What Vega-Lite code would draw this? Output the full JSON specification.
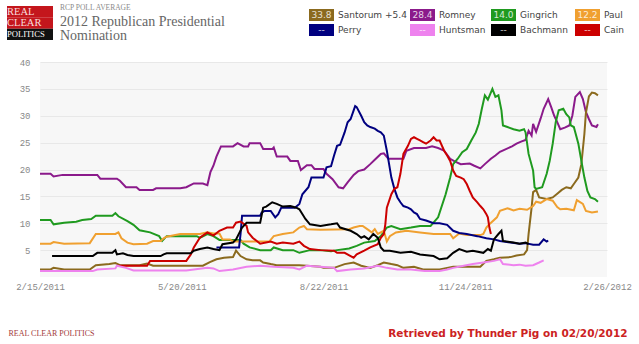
{
"$schema": "https://vega.github.io/schema/vega-lite/v6.json",
"background": "white",
"padding": {"left": 7, "top": 1, "right": 0, "bottom": 0},
"config": {"view": {"stroke": null}},
"datasets": {
"legend": [
{"who":"Santorum","latest":"33.8","label":"Santorum +5.4"},
{"who":"Romney","latest":"28.4","label":"Romney"},
{"who":"Gingrich","latest":"14.0","label":"Gingrich"},
{"who":"Paul","latest":"12.2","label":"Paul"},
{"who":"Perry","latest":"--","label":"Perry"},
{"who":"Huntsman","latest":"--","label":"Huntsman"},
{"who":"Bachmann","latest":"--","label":"Bachmann"},
{"who":"Cain","latest":"--","label":"Cain"}
],
"polls": [
{"who":"Romney","date":"2011-02-15","pct":19.2},{"who":"Romney","date":"2011-02-22","pct":19.2},{"who":"Romney","date":"2011-02-24","pct":18.7},{"who":"Romney","date":"2011-03-02","pct":19.0},{"who":"Romney","date":"2011-03-25","pct":19.0},{"who":"Romney","date":"2011-03-27","pct":18.3},{"who":"Romney","date":"2011-04-07","pct":18.3},{"who":"Romney","date":"2011-04-09","pct":17.9},{"who":"Romney","date":"2011-04-13","pct":16.7},{"who":"Romney","date":"2011-04-20","pct":16.7},{"who":"Romney","date":"2011-04-22","pct":16.2},{"who":"Romney","date":"2011-05-01","pct":16.2},{"who":"Romney","date":"2011-05-03","pct":16.5},{"who":"Romney","date":"2011-05-19","pct":16.5},{"who":"Romney","date":"2011-05-23","pct":16.7},{"who":"Romney","date":"2011-05-28","pct":17.4},{"who":"Romney","date":"2011-06-03","pct":17.4},{"who":"Romney","date":"2011-06-06","pct":17.1},{"who":"Romney","date":"2011-06-08","pct":19.5},{"who":"Romney","date":"2011-06-10","pct":20.7},{"who":"Romney","date":"2011-06-12","pct":22.4},{"who":"Romney","date":"2011-06-15","pct":24.3},{"who":"Romney","date":"2011-06-23","pct":24.3},{"who":"Romney","date":"2011-06-26","pct":24.9},{"who":"Romney","date":"2011-06-30","pct":24.3},{"who":"Romney","date":"2011-07-03","pct":24.3},{"who":"Romney","date":"2011-07-04","pct":24.9},{"who":"Romney","date":"2011-07-11","pct":24.9},{"who":"Romney","date":"2011-07-13","pct":23.8},{"who":"Romney","date":"2011-07-19","pct":23.8},{"who":"Romney","date":"2011-07-20","pct":24.1},{"who":"Romney","date":"2011-07-22","pct":22.4},{"who":"Romney","date":"2011-07-29","pct":22.4},{"who":"Romney","date":"2011-07-31","pct":21.6},{"who":"Romney","date":"2011-08-05","pct":21.6},{"who":"Romney","date":"2011-08-07","pct":19.9},{"who":"Romney","date":"2011-08-11","pct":20.8},{"who":"Romney","date":"2011-08-14","pct":20.8},{"who":"Romney","date":"2011-08-16","pct":20.1},{"who":"Romney","date":"2011-08-22","pct":20.1},{"who":"Romney","date":"2011-08-24","pct":19.2},{"who":"Romney","date":"2011-08-28","pct":18.2},{"who":"Romney","date":"2011-09-01","pct":16.7},{"who":"Romney","date":"2011-09-04","pct":16.5},{"who":"Romney","date":"2011-09-07","pct":17.6},{"who":"Romney","date":"2011-09-11","pct":19.0},{"who":"Romney","date":"2011-09-14","pct":19.7},{"who":"Romney","date":"2011-09-18","pct":20.0},{"who":"Romney","date":"2011-09-22","pct":21.0},{"who":"Romney","date":"2011-09-25","pct":21.8},{"who":"Romney","date":"2011-09-29","pct":22.9},{"who":"Romney","date":"2011-10-01","pct":23.0},{"who":"Romney","date":"2011-10-04","pct":22.0},{"who":"Romney","date":"2011-10-14","pct":22.0},{"who":"Romney","date":"2011-10-16","pct":23.5},{"who":"Romney","date":"2011-10-21","pct":24.0},{"who":"Romney","date":"2011-10-25","pct":24.0},{"who":"Romney","date":"2011-10-29","pct":24.0},{"who":"Romney","date":"2011-11-02","pct":24.3},{"who":"Romney","date":"2011-11-06","pct":24.0},{"who":"Romney","date":"2011-11-10","pct":23.5},{"who":"Romney","date":"2011-11-14","pct":22.0},{"who":"Romney","date":"2011-11-17","pct":21.5},{"who":"Romney","date":"2011-11-21","pct":21.0},{"who":"Romney","date":"2011-11-27","pct":21.1},{"who":"Romney","date":"2011-11-30","pct":20.7},{"who":"Romney","date":"2011-12-04","pct":20.2},{"who":"Romney","date":"2011-12-07","pct":21.0},{"who":"Romney","date":"2011-12-11","pct":22.0},{"who":"Romney","date":"2011-12-14","pct":22.6},{"who":"Romney","date":"2011-12-17","pct":23.3},{"who":"Romney","date":"2011-12-21","pct":23.8},{"who":"Romney","date":"2011-12-25","pct":24.3},{"who":"Romney","date":"2011-12-28","pct":24.8},{"who":"Romney","date":"2011-12-31","pct":25.2},{"who":"Romney","date":"2012-01-03","pct":25.5},{"who":"Romney","date":"2012-01-05","pct":27.2},{"who":"Romney","date":"2012-01-07","pct":26.3},{"who":"Romney","date":"2012-01-08","pct":28.5},{"who":"Romney","date":"2012-01-10","pct":27.0},{"who":"Romney","date":"2012-01-13","pct":29.5},{"who":"Romney","date":"2012-01-15","pct":31.3},{"who":"Romney","date":"2012-01-18","pct":33.1},{"who":"Romney","date":"2012-01-20","pct":31.6},{"who":"Romney","date":"2012-01-22","pct":30.0},{"who":"Romney","date":"2012-01-24","pct":28.8},{"who":"Romney","date":"2012-01-26","pct":27.5},{"who":"Romney","date":"2012-01-29","pct":27.8},{"who":"Romney","date":"2012-02-01","pct":28.2},{"who":"Romney","date":"2012-02-03","pct":30.0},{"who":"Romney","date":"2012-02-05","pct":33.5},{"who":"Romney","date":"2012-02-08","pct":34.4},{"who":"Romney","date":"2012-02-10","pct":33.1},{"who":"Romney","date":"2012-02-12","pct":30.7},{"who":"Romney","date":"2012-02-14","pct":29.4},{"who":"Romney","date":"2012-02-16","pct":28.2},{"who":"Romney","date":"2012-02-19","pct":27.9},{"who":"Romney","date":"2012-02-20","pct":28.4},
{"who":"Santorum","date":"2011-02-15","pct":1.4},{"who":"Santorum","date":"2011-02-22","pct":1.4},{"who":"Santorum","date":"2011-02-24","pct":1.7},{"who":"Santorum","date":"2011-03-03","pct":1.4},{"who":"Santorum","date":"2011-03-20","pct":1.4},{"who":"Santorum","date":"2011-03-24","pct":2.2},{"who":"Santorum","date":"2011-04-02","pct":2.4},{"who":"Santorum","date":"2011-04-06","pct":2.6},{"who":"Santorum","date":"2011-04-09","pct":2.2},{"who":"Santorum","date":"2011-04-22","pct":2.2},{"who":"Santorum","date":"2011-04-27","pct":2.5},{"who":"Santorum","date":"2011-05-01","pct":2.1},{"who":"Santorum","date":"2011-06-03","pct":2.1},{"who":"Santorum","date":"2011-06-08","pct":2.8},{"who":"Santorum","date":"2011-06-12","pct":3.3},{"who":"Santorum","date":"2011-06-17","pct":3.6},{"who":"Santorum","date":"2011-06-23","pct":3.7},{"who":"Santorum","date":"2011-06-25","pct":4.9},{"who":"Santorum","date":"2011-06-28","pct":3.9},{"who":"Santorum","date":"2011-07-02","pct":3.3},{"who":"Santorum","date":"2011-07-06","pct":3.1},{"who":"Santorum","date":"2011-07-11","pct":3.1},{"who":"Santorum","date":"2011-07-13","pct":2.7},{"who":"Santorum","date":"2011-07-18","pct":2.4},{"who":"Santorum","date":"2011-07-22","pct":2.2},{"who":"Santorum","date":"2011-08-06","pct":2.2},{"who":"Santorum","date":"2011-08-11","pct":2.1},{"who":"Santorum","date":"2011-08-20","pct":1.9},{"who":"Santorum","date":"2011-08-22","pct":1.7},{"who":"Santorum","date":"2011-08-29","pct":1.7},{"who":"Santorum","date":"2011-09-05","pct":2.4},{"who":"Santorum","date":"2011-09-11","pct":2.7},{"who":"Santorum","date":"2011-09-16","pct":2.1},{"who":"Santorum","date":"2011-09-22","pct":1.7},{"who":"Santorum","date":"2011-09-27","pct":2.2},{"who":"Santorum","date":"2011-10-01","pct":2.7},{"who":"Santorum","date":"2011-10-06","pct":2.4},{"who":"Santorum","date":"2011-10-10","pct":2.2},{"who":"Santorum","date":"2011-10-14","pct":1.7},{"who":"Santorum","date":"2011-10-21","pct":1.9},{"who":"Santorum","date":"2011-10-27","pct":1.4},{"who":"Santorum","date":"2011-11-07","pct":1.4},{"who":"Santorum","date":"2011-11-12","pct":1.7},{"who":"Santorum","date":"2011-11-16","pct":1.9},{"who":"Santorum","date":"2011-12-04","pct":1.9},{"who":"Santorum","date":"2011-12-08","pct":3.0},{"who":"Santorum","date":"2011-12-13","pct":3.3},{"who":"Santorum","date":"2011-12-17","pct":3.6},{"who":"Santorum","date":"2011-12-24","pct":3.7},{"who":"Santorum","date":"2011-12-28","pct":4.0},{"who":"Santorum","date":"2012-01-02","pct":4.2},{"who":"Santorum","date":"2012-01-04","pct":5.0},{"who":"Santorum","date":"2012-01-05","pct":8.0},{"who":"Santorum","date":"2012-01-07","pct":12.9},{"who":"Santorum","date":"2012-01-08","pct":15.8},{"who":"Santorum","date":"2012-01-10","pct":16.2},{"who":"Santorum","date":"2012-01-12","pct":14.8},{"who":"Santorum","date":"2012-01-17","pct":14.5},{"who":"Santorum","date":"2012-01-21","pct":14.8},{"who":"Santorum","date":"2012-01-24","pct":15.5},{"who":"Santorum","date":"2012-01-27","pct":16.2},{"who":"Santorum","date":"2012-01-30","pct":16.7},{"who":"Santorum","date":"2012-02-02","pct":16.5},{"who":"Santorum","date":"2012-02-04","pct":17.3},{"who":"Santorum","date":"2012-02-07","pct":18.5},{"who":"Santorum","date":"2012-02-09","pct":21.0},{"who":"Santorum","date":"2012-02-11","pct":26.6},{"who":"Santorum","date":"2012-02-12","pct":30.5},{"who":"Santorum","date":"2012-02-14","pct":33.6},{"who":"Santorum","date":"2012-02-16","pct":34.3},{"who":"Santorum","date":"2012-02-18","pct":34.2},{"who":"Santorum","date":"2012-02-20","pct":33.8},
{"who":"Gingrich","date":"2011-02-15","pct":10.6},{"who":"Gingrich","date":"2011-02-22","pct":10.6},{"who":"Gingrich","date":"2011-02-24","pct":9.8},{"who":"Gingrich","date":"2011-03-03","pct":10.1},{"who":"Gingrich","date":"2011-03-11","pct":10.3},{"who":"Gingrich","date":"2011-03-15","pct":10.6},{"who":"Gingrich","date":"2011-03-21","pct":10.8},{"who":"Gingrich","date":"2011-03-24","pct":11.4},{"who":"Gingrich","date":"2011-04-04","pct":11.4},{"who":"Gingrich","date":"2011-04-06","pct":11.9},{"who":"Gingrich","date":"2011-04-08","pct":11.3},{"who":"Gingrich","date":"2011-04-14","pct":10.4},{"who":"Gingrich","date":"2011-04-18","pct":9.7},{"who":"Gingrich","date":"2011-04-22","pct":8.7},{"who":"Gingrich","date":"2011-04-29","pct":8.3},{"who":"Gingrich","date":"2011-05-05","pct":7.6},{"who":"Gingrich","date":"2011-05-07","pct":6.7},{"who":"Gingrich","date":"2011-05-10","pct":7.6},{"who":"Gingrich","date":"2011-05-30","pct":7.6},{"who":"Gingrich","date":"2011-06-01","pct":7.3},{"who":"Gingrich","date":"2011-06-06","pct":8.0},{"who":"Gingrich","date":"2011-06-10","pct":7.6},{"who":"Gingrich","date":"2011-06-14","pct":6.9},{"who":"Gingrich","date":"2011-06-28","pct":6.9},{"who":"Gingrich","date":"2011-06-30","pct":6.2},{"who":"Gingrich","date":"2011-07-04","pct":5.5},{"who":"Gingrich","date":"2011-07-11","pct":5.0},{"who":"Gingrich","date":"2011-07-18","pct":5.0},{"who":"Gingrich","date":"2011-07-20","pct":5.5},{"who":"Gingrich","date":"2011-07-26","pct":5.0},{"who":"Gingrich","date":"2011-08-02","pct":5.0},{"who":"Gingrich","date":"2011-08-06","pct":4.5},{"who":"Gingrich","date":"2011-08-13","pct":5.0},{"who":"Gingrich","date":"2011-08-20","pct":5.0},{"who":"Gingrich","date":"2011-08-27","pct":4.8},{"who":"Gingrich","date":"2011-08-31","pct":5.0},{"who":"Gingrich","date":"2011-09-08","pct":5.3},{"who":"Gingrich","date":"2011-09-13","pct":5.8},{"who":"Gingrich","date":"2011-09-18","pct":6.4},{"who":"Gingrich","date":"2011-09-25","pct":6.7},{"who":"Gingrich","date":"2011-09-29","pct":7.6},{"who":"Gingrich","date":"2011-10-03","pct":9.2},{"who":"Gingrich","date":"2011-10-06","pct":9.5},{"who":"Gingrich","date":"2011-10-12","pct":8.9},{"who":"Gingrich","date":"2011-10-19","pct":9.2},{"who":"Gingrich","date":"2011-10-25","pct":9.5},{"who":"Gingrich","date":"2011-11-01","pct":9.5},{"who":"Gingrich","date":"2011-11-06","pct":11.1},{"who":"Gingrich","date":"2011-11-11","pct":15.4},{"who":"Gingrich","date":"2011-11-14","pct":18.5},{"who":"Gingrich","date":"2011-11-16","pct":21.0},{"who":"Gingrich","date":"2011-11-19","pct":22.0},{"who":"Gingrich","date":"2011-11-22","pct":23.2},{"who":"Gingrich","date":"2011-11-25","pct":23.8},{"who":"Gingrich","date":"2011-11-28","pct":25.4},{"who":"Gingrich","date":"2011-12-01","pct":26.9},{"who":"Gingrich","date":"2011-12-03","pct":28.5},{"who":"Gingrich","date":"2011-12-05","pct":31.3},{"who":"Gingrich","date":"2011-12-07","pct":33.8},{"who":"Gingrich","date":"2011-12-09","pct":33.0},{"who":"Gingrich","date":"2011-12-12","pct":35.0},{"who":"Gingrich","date":"2011-12-14","pct":33.5},{"who":"Gingrich","date":"2011-12-16","pct":33.8},{"who":"Gingrich","date":"2011-12-18","pct":31.0},{"who":"Gingrich","date":"2011-12-19","pct":28.2},{"who":"Gingrich","date":"2011-12-22","pct":27.9},{"who":"Gingrich","date":"2011-12-26","pct":27.5},{"who":"Gingrich","date":"2011-12-30","pct":27.2},{"who":"Gingrich","date":"2012-01-02","pct":27.5},{"who":"Gingrich","date":"2012-01-03","pct":26.9},{"who":"Gingrich","date":"2012-01-05","pct":22.9},{"who":"Gingrich","date":"2012-01-08","pct":19.8},{"who":"Gingrich","date":"2012-01-09","pct":16.7},{"who":"Gingrich","date":"2012-01-10","pct":16.4},{"who":"Gingrich","date":"2012-01-14","pct":16.7},{"who":"Gingrich","date":"2012-01-17","pct":19.2},{"who":"Gingrich","date":"2012-01-19","pct":21.6},{"who":"Gingrich","date":"2012-01-21","pct":24.8},{"who":"Gingrich","date":"2012-01-23","pct":28.8},{"who":"Gingrich","date":"2012-01-25","pct":31.0},{"who":"Gingrich","date":"2012-01-28","pct":31.3},{"who":"Gingrich","date":"2012-01-30","pct":30.3},{"who":"Gingrich","date":"2012-02-01","pct":29.7},{"who":"Gingrich","date":"2012-02-02","pct":28.2},{"who":"Gingrich","date":"2012-02-04","pct":27.9},{"who":"Gingrich","date":"2012-02-05","pct":26.9},{"who":"Gingrich","date":"2012-02-07","pct":24.8},{"who":"Gingrich","date":"2012-02-09","pct":21.6},{"who":"Gingrich","date":"2012-02-11","pct":18.5},{"who":"Gingrich","date":"2012-02-13","pct":16.0},{"who":"Gingrich","date":"2012-02-15","pct":14.8},{"who":"Gingrich","date":"2012-02-18","pct":14.5},{"who":"Gingrich","date":"2012-02-20","pct":14.0},
{"who":"Paul","date":"2011-02-15","pct":6.2},{"who":"Paul","date":"2011-02-22","pct":6.2},{"who":"Paul","date":"2011-02-24","pct":6.5},{"who":"Paul","date":"2011-03-03","pct":6.2},{"who":"Paul","date":"2011-03-20","pct":6.3},{"who":"Paul","date":"2011-03-24","pct":8.0},{"who":"Paul","date":"2011-04-06","pct":8.0},{"who":"Paul","date":"2011-04-08","pct":8.3},{"who":"Paul","date":"2011-04-10","pct":7.2},{"who":"Paul","date":"2011-04-14","pct":6.4},{"who":"Paul","date":"2011-04-18","pct":6.1},{"who":"Paul","date":"2011-04-27","pct":6.2},{"who":"Paul","date":"2011-05-01","pct":6.7},{"who":"Paul","date":"2011-05-06","pct":6.7},{"who":"Paul","date":"2011-05-08","pct":7.2},{"who":"Paul","date":"2011-05-10","pct":7.5},{"who":"Paul","date":"2011-05-19","pct":8.0},{"who":"Paul","date":"2011-06-01","pct":8.0},{"who":"Paul","date":"2011-06-06","pct":8.3},{"who":"Paul","date":"2011-06-10","pct":8.1},{"who":"Paul","date":"2011-06-14","pct":8.1},{"who":"Paul","date":"2011-06-16","pct":7.0},{"who":"Paul","date":"2011-06-21","pct":7.0},{"who":"Paul","date":"2011-06-23","pct":6.6},{"who":"Paul","date":"2011-07-17","pct":6.6},{"who":"Paul","date":"2011-07-20","pct":7.6},{"who":"Paul","date":"2011-07-26","pct":8.0},{"who":"Paul","date":"2011-08-02","pct":8.3},{"who":"Paul","date":"2011-08-06","pct":9.2},{"who":"Paul","date":"2011-08-09","pct":9.5},{"who":"Paul","date":"2011-08-11","pct":8.9},{"who":"Paul","date":"2011-08-20","pct":8.8},{"who":"Paul","date":"2011-09-08","pct":8.9},{"who":"Paul","date":"2011-09-11","pct":9.2},{"who":"Paul","date":"2011-09-15","pct":9.5},{"who":"Paul","date":"2011-09-17","pct":9.5},{"who":"Paul","date":"2011-09-20","pct":8.9},{"who":"Paul","date":"2011-09-23","pct":8.3},{"who":"Paul","date":"2011-09-25","pct":8.9},{"who":"Paul","date":"2011-09-27","pct":8.0},{"who":"Paul","date":"2011-10-01","pct":8.6},{"who":"Paul","date":"2011-10-03","pct":6.6},{"who":"Paul","date":"2011-10-05","pct":7.6},{"who":"Paul","date":"2011-10-09","pct":8.3},{"who":"Paul","date":"2011-10-16","pct":8.6},{"who":"Paul","date":"2011-10-25","pct":8.3},{"who":"Paul","date":"2011-11-03","pct":8.0},{"who":"Paul","date":"2011-11-14","pct":8.0},{"who":"Paul","date":"2011-11-16","pct":7.2},{"who":"Paul","date":"2011-11-20","pct":8.1},{"who":"Paul","date":"2011-11-25","pct":7.8},{"who":"Paul","date":"2011-12-04","pct":7.8},{"who":"Paul","date":"2011-12-06","pct":8.0},{"who":"Paul","date":"2011-12-08","pct":9.2},{"who":"Paul","date":"2011-12-10","pct":9.8},{"who":"Paul","date":"2011-12-15","pct":11.1},{"who":"Paul","date":"2011-12-17","pct":12.3},{"who":"Paul","date":"2011-12-22","pct":12.8},{"who":"Paul","date":"2011-12-26","pct":12.4},{"who":"Paul","date":"2011-12-30","pct":12.7},{"who":"Paul","date":"2012-01-04","pct":12.5},{"who":"Paul","date":"2012-01-08","pct":13.2},{"who":"Paul","date":"2012-01-10","pct":14.0},{"who":"Paul","date":"2012-01-13","pct":13.8},{"who":"Paul","date":"2012-01-17","pct":14.5},{"who":"Paul","date":"2012-01-21","pct":14.2},{"who":"Paul","date":"2012-01-24","pct":13.0},{"who":"Paul","date":"2012-01-26","pct":12.6},{"who":"Paul","date":"2012-01-30","pct":12.7},{"who":"Paul","date":"2012-02-04","pct":12.4},{"who":"Paul","date":"2012-02-06","pct":14.3},{"who":"Paul","date":"2012-02-10","pct":13.6},{"who":"Paul","date":"2012-02-12","pct":12.3},{"who":"Paul","date":"2012-02-16","pct":12.0},{"who":"Paul","date":"2012-02-20","pct":12.2},
{"who":"Perry","date":"2011-06-12","pct":5.5},{"who":"Perry","date":"2011-06-27","pct":5.5},{"who":"Perry","date":"2011-06-28","pct":8.0},{"who":"Perry","date":"2011-06-29","pct":11.4},{"who":"Perry","date":"2011-07-11","pct":11.4},{"who":"Perry","date":"2011-07-12","pct":12.0},{"who":"Perry","date":"2011-07-14","pct":12.3},{"who":"Perry","date":"2011-07-18","pct":12.3},{"who":"Perry","date":"2011-07-21","pct":11.1},{"who":"Perry","date":"2011-07-23","pct":11.7},{"who":"Perry","date":"2011-07-25","pct":12.9},{"who":"Perry","date":"2011-08-03","pct":12.9},{"who":"Perry","date":"2011-08-06","pct":13.6},{"who":"Perry","date":"2011-08-08","pct":15.4},{"who":"Perry","date":"2011-08-12","pct":16.7},{"who":"Perry","date":"2011-08-14","pct":18.5},{"who":"Perry","date":"2011-08-22","pct":18.5},{"who":"Perry","date":"2011-08-24","pct":20.4},{"who":"Perry","date":"2011-08-27","pct":20.6},{"who":"Perry","date":"2011-08-29","pct":22.6},{"who":"Perry","date":"2011-08-31","pct":24.4},{"who":"Perry","date":"2011-09-02","pct":24.6},{"who":"Perry","date":"2011-09-05","pct":26.9},{"who":"Perry","date":"2011-09-07","pct":28.8},{"who":"Perry","date":"2011-09-09","pct":29.4},{"who":"Perry","date":"2011-09-11","pct":31.0},{"who":"Perry","date":"2011-09-12","pct":31.8},{"who":"Perry","date":"2011-09-13","pct":31.6},{"who":"Perry","date":"2011-09-16","pct":30.0},{"who":"Perry","date":"2011-09-18","pct":28.8},{"who":"Perry","date":"2011-09-20","pct":28.2},{"who":"Perry","date":"2011-09-22","pct":27.9},{"who":"Perry","date":"2011-09-25","pct":27.6},{"who":"Perry","date":"2011-09-27","pct":27.2},{"who":"Perry","date":"2011-09-29","pct":26.9},{"who":"Perry","date":"2011-10-01","pct":26.3},{"who":"Perry","date":"2011-10-03","pct":23.5},{"who":"Perry","date":"2011-10-06","pct":18.5},{"who":"Perry","date":"2011-10-08","pct":16.4},{"who":"Perry","date":"2011-10-10","pct":14.8},{"who":"Perry","date":"2011-10-12","pct":13.9},{"who":"Perry","date":"2011-10-14","pct":13.2},{"who":"Perry","date":"2011-10-17","pct":12.9},{"who":"Perry","date":"2011-10-19","pct":12.6},{"who":"Perry","date":"2011-10-21","pct":12.0},{"who":"Perry","date":"2011-10-23","pct":11.7},{"who":"Perry","date":"2011-10-25","pct":10.8},{"who":"Perry","date":"2011-10-29","pct":10.5},{"who":"Perry","date":"2011-11-03","pct":10.0},{"who":"Perry","date":"2011-11-07","pct":10.0},{"who":"Perry","date":"2011-11-12","pct":9.7},{"who":"Perry","date":"2011-11-16","pct":8.6},{"who":"Perry","date":"2011-11-20","pct":8.2},{"who":"Perry","date":"2011-11-25","pct":8.0},{"who":"Perry","date":"2011-12-02","pct":7.6},{"who":"Perry","date":"2011-12-08","pct":7.2},{"who":"Perry","date":"2011-12-13","pct":7.0},{"who":"Perry","date":"2011-12-17","pct":6.7},{"who":"Perry","date":"2011-12-24","pct":6.4},{"who":"Perry","date":"2011-12-30","pct":6.2},{"who":"Perry","date":"2012-01-03","pct":6.3},{"who":"Perry","date":"2012-01-08","pct":6.0},{"who":"Perry","date":"2012-01-12","pct":6.0},{"who":"Perry","date":"2012-01-15","pct":7.0},{"who":"Perry","date":"2012-01-17","pct":6.6},{"who":"Perry","date":"2012-01-18","pct":6.8},
{"who":"Cain","date":"2011-04-07","pct":2.1},{"who":"Cain","date":"2011-04-27","pct":2.1},{"who":"Cain","date":"2011-04-29","pct":3.0},{"who":"Cain","date":"2011-05-23","pct":3.0},{"who":"Cain","date":"2011-05-26","pct":4.2},{"who":"Cain","date":"2011-05-28","pct":5.5},{"who":"Cain","date":"2011-06-01","pct":7.3},{"who":"Cain","date":"2011-06-06","pct":8.3},{"who":"Cain","date":"2011-06-10","pct":7.7},{"who":"Cain","date":"2011-06-14","pct":8.6},{"who":"Cain","date":"2011-06-19","pct":9.2},{"who":"Cain","date":"2011-06-23","pct":9.2},{"who":"Cain","date":"2011-06-25","pct":10.1},{"who":"Cain","date":"2011-06-28","pct":10.3},{"who":"Cain","date":"2011-07-02","pct":9.5},{"who":"Cain","date":"2011-07-03","pct":8.3},{"who":"Cain","date":"2011-07-06","pct":7.3},{"who":"Cain","date":"2011-07-11","pct":6.2},{"who":"Cain","date":"2011-07-18","pct":6.6},{"who":"Cain","date":"2011-07-22","pct":6.2},{"who":"Cain","date":"2011-07-26","pct":6.4},{"who":"Cain","date":"2011-08-02","pct":6.2},{"who":"Cain","date":"2011-08-06","pct":6.6},{"who":"Cain","date":"2011-08-09","pct":5.8},{"who":"Cain","date":"2011-08-13","pct":5.2},{"who":"Cain","date":"2011-08-20","pct":5.0},{"who":"Cain","date":"2011-08-29","pct":4.9},{"who":"Cain","date":"2011-08-31","pct":4.5},{"who":"Cain","date":"2011-09-05","pct":4.5},{"who":"Cain","date":"2011-09-09","pct":3.9},{"who":"Cain","date":"2011-09-11","pct":3.6},{"who":"Cain","date":"2011-09-13","pct":4.2},{"who":"Cain","date":"2011-09-18","pct":4.9},{"who":"Cain","date":"2011-09-22","pct":5.5},{"who":"Cain","date":"2011-09-27","pct":6.1},{"who":"Cain","date":"2011-09-29","pct":7.3},{"who":"Cain","date":"2011-10-01","pct":8.0},{"who":"Cain","date":"2011-10-02","pct":9.8},{"who":"Cain","date":"2011-10-03","pct":12.9},{"who":"Cain","date":"2011-10-06","pct":15.4},{"who":"Cain","date":"2011-10-08","pct":16.4},{"who":"Cain","date":"2011-10-10","pct":16.7},{"who":"Cain","date":"2011-10-12","pct":19.2},{"who":"Cain","date":"2011-10-14","pct":22.9},{"who":"Cain","date":"2011-10-17","pct":24.4},{"who":"Cain","date":"2011-10-19","pct":25.7},{"who":"Cain","date":"2011-10-21","pct":26.0},{"who":"Cain","date":"2011-10-23","pct":25.7},{"who":"Cain","date":"2011-10-25","pct":25.4},{"who":"Cain","date":"2011-10-27","pct":25.1},{"who":"Cain","date":"2011-10-29","pct":24.8},{"who":"Cain","date":"2011-11-01","pct":25.4},{"who":"Cain","date":"2011-11-03","pct":26.0},{"who":"Cain","date":"2011-11-05","pct":25.4},{"who":"Cain","date":"2011-11-07","pct":25.4},{"who":"Cain","date":"2011-11-10","pct":23.5},{"who":"Cain","date":"2011-11-12","pct":22.6},{"who":"Cain","date":"2011-11-14","pct":21.6},{"who":"Cain","date":"2011-11-16","pct":19.8},{"who":"Cain","date":"2011-11-18","pct":18.8},{"who":"Cain","date":"2011-11-21","pct":18.5},{"who":"Cain","date":"2011-11-23","pct":18.2},{"who":"Cain","date":"2011-11-25","pct":17.3},{"who":"Cain","date":"2011-11-27","pct":16.0},{"who":"Cain","date":"2011-11-29","pct":14.8},{"who":"Cain","date":"2011-12-02","pct":13.9},{"who":"Cain","date":"2011-12-04","pct":13.2},{"who":"Cain","date":"2011-12-06","pct":12.6},{"who":"Cain","date":"2011-12-08","pct":11.7},{"who":"Cain","date":"2011-12-09","pct":11.1},{"who":"Cain","date":"2011-12-10","pct":9.2},{"who":"Cain","date":"2011-12-11","pct":8.0},
{"who":"Bachmann","date":"2011-02-23","pct":3.9},{"who":"Bachmann","date":"2011-03-22","pct":3.9},{"who":"Bachmann","date":"2011-03-25","pct":4.5},{"who":"Bachmann","date":"2011-04-04","pct":4.5},{"who":"Bachmann","date":"2011-04-06","pct":5.0},{"who":"Bachmann","date":"2011-04-07","pct":4.2},{"who":"Bachmann","date":"2011-04-11","pct":4.4},{"who":"Bachmann","date":"2011-04-14","pct":4.1},{"who":"Bachmann","date":"2011-04-18","pct":3.9},{"who":"Bachmann","date":"2011-05-06","pct":3.9},{"who":"Bachmann","date":"2011-05-08","pct":4.2},{"who":"Bachmann","date":"2011-05-10","pct":4.4},{"who":"Bachmann","date":"2011-05-26","pct":4.4},{"who":"Bachmann","date":"2011-05-28","pct":4.9},{"who":"Bachmann","date":"2011-06-01","pct":5.2},{"who":"Bachmann","date":"2011-06-06","pct":5.5},{"who":"Bachmann","date":"2011-06-10","pct":5.2},{"who":"Bachmann","date":"2011-06-14","pct":5.0},{"who":"Bachmann","date":"2011-06-16","pct":6.1},{"who":"Bachmann","date":"2011-06-23","pct":6.4},{"who":"Bachmann","date":"2011-06-25","pct":7.0},{"who":"Bachmann","date":"2011-06-29","pct":9.2},{"who":"Bachmann","date":"2011-07-02","pct":10.1},{"who":"Bachmann","date":"2011-07-11","pct":10.1},{"who":"Bachmann","date":"2011-07-13","pct":12.9},{"who":"Bachmann","date":"2011-07-15","pct":13.1},{"who":"Bachmann","date":"2011-07-19","pct":13.9},{"who":"Bachmann","date":"2011-07-22","pct":13.6},{"who":"Bachmann","date":"2011-07-26","pct":13.1},{"who":"Bachmann","date":"2011-07-31","pct":13.2},{"who":"Bachmann","date":"2011-08-04","pct":12.9},{"who":"Bachmann","date":"2011-08-06","pct":12.6},{"who":"Bachmann","date":"2011-08-10","pct":10.8},{"who":"Bachmann","date":"2011-08-13","pct":9.8},{"who":"Bachmann","date":"2011-08-20","pct":9.5},{"who":"Bachmann","date":"2011-08-27","pct":9.8},{"who":"Bachmann","date":"2011-08-31","pct":10.0},{"who":"Bachmann","date":"2011-09-02","pct":9.2},{"who":"Bachmann","date":"2011-09-09","pct":8.6},{"who":"Bachmann","date":"2011-09-13","pct":8.0},{"who":"Bachmann","date":"2011-09-16","pct":7.3},{"who":"Bachmann","date":"2011-09-18","pct":7.6},{"who":"Bachmann","date":"2011-09-21","pct":7.0},{"who":"Bachmann","date":"2011-09-24","pct":8.0},{"who":"Bachmann","date":"2011-09-27","pct":7.3},{"who":"Bachmann","date":"2011-09-29","pct":5.5},{"who":"Bachmann","date":"2011-10-01","pct":4.9},{"who":"Bachmann","date":"2011-10-05","pct":4.9},{"who":"Bachmann","date":"2011-10-12","pct":4.5},{"who":"Bachmann","date":"2011-10-19","pct":4.7},{"who":"Bachmann","date":"2011-10-25","pct":4.2},{"who":"Bachmann","date":"2011-11-03","pct":3.9},{"who":"Bachmann","date":"2011-11-07","pct":3.3},{"who":"Bachmann","date":"2011-11-12","pct":3.5},{"who":"Bachmann","date":"2011-11-16","pct":4.5},{"who":"Bachmann","date":"2011-11-20","pct":5.2},{"who":"Bachmann","date":"2011-11-25","pct":4.7},{"who":"Bachmann","date":"2011-11-29","pct":4.9},{"who":"Bachmann","date":"2011-12-06","pct":4.5},{"who":"Bachmann","date":"2011-12-09","pct":5.2},{"who":"Bachmann","date":"2011-12-11","pct":4.9},{"who":"Bachmann","date":"2011-12-13","pct":7.0},{"who":"Bachmann","date":"2011-12-16","pct":8.0},{"who":"Bachmann","date":"2011-12-18","pct":8.6},{"who":"Bachmann","date":"2011-12-19","pct":6.7},{"who":"Bachmann","date":"2011-12-26","pct":6.4},{"who":"Bachmann","date":"2011-12-30","pct":6.2},{"who":"Bachmann","date":"2012-01-03","pct":6.4},{"who":"Bachmann","date":"2012-01-05","pct":6.1},
{"who":"Huntsman","date":"2011-02-15","pct":1.1},{"who":"Huntsman","date":"2011-03-22","pct":1.1},{"who":"Huntsman","date":"2011-03-25","pct":1.4},{"who":"Huntsman","date":"2011-04-06","pct":1.6},{"who":"Huntsman","date":"2011-04-07","pct":2.1},{"who":"Huntsman","date":"2011-04-13","pct":1.7},{"who":"Huntsman","date":"2011-04-18","pct":1.2},{"who":"Huntsman","date":"2011-05-23","pct":1.2},{"who":"Huntsman","date":"2011-05-28","pct":1.4},{"who":"Huntsman","date":"2011-06-06","pct":1.7},{"who":"Huntsman","date":"2011-06-10","pct":1.6},{"who":"Huntsman","date":"2011-06-14","pct":1.1},{"who":"Huntsman","date":"2011-06-23","pct":1.4},{"who":"Huntsman","date":"2011-07-02","pct":1.9},{"who":"Huntsman","date":"2011-07-11","pct":2.1},{"who":"Huntsman","date":"2011-07-20","pct":1.9},{"who":"Huntsman","date":"2011-08-02","pct":1.7},{"who":"Huntsman","date":"2011-08-06","pct":1.4},{"who":"Huntsman","date":"2011-08-11","pct":2.1},{"who":"Huntsman","date":"2011-08-20","pct":1.9},{"who":"Huntsman","date":"2011-08-29","pct":1.7},{"who":"Huntsman","date":"2011-08-31","pct":1.1},{"who":"Huntsman","date":"2011-09-09","pct":1.4},{"who":"Huntsman","date":"2011-09-18","pct":1.6},{"who":"Huntsman","date":"2011-09-27","pct":2.1},{"who":"Huntsman","date":"2011-10-03","pct":1.7},{"who":"Huntsman","date":"2011-10-10","pct":1.4},{"who":"Huntsman","date":"2011-10-19","pct":1.4},{"who":"Huntsman","date":"2011-10-28","pct":1.1},{"who":"Huntsman","date":"2011-11-07","pct":1.1},{"who":"Huntsman","date":"2011-11-12","pct":1.4},{"who":"Huntsman","date":"2011-11-16","pct":1.7},{"who":"Huntsman","date":"2011-11-23","pct":2.1},{"who":"Huntsman","date":"2011-11-29","pct":2.4},{"who":"Huntsman","date":"2011-12-06","pct":2.7},{"who":"Huntsman","date":"2011-12-13","pct":3.0},{"who":"Huntsman","date":"2011-12-17","pct":3.3},{"who":"Huntsman","date":"2011-12-19","pct":2.4},{"who":"Huntsman","date":"2011-12-26","pct":2.2},{"who":"Huntsman","date":"2011-12-30","pct":2.3},{"who":"Huntsman","date":"2012-01-03","pct":2.1},{"who":"Huntsman","date":"2012-01-08","pct":2.2},{"who":"Huntsman","date":"2012-01-12","pct":2.7},{"who":"Huntsman","date":"2012-01-15","pct":3.1}
]
},
"spacing": 15,
"vconcat": [
{
"hconcat": [
{
"width": 46, "height": 40,
"data": {"values": [{"word":"REAL","part":"a"},{"word":"CLEAR","part":"b"},{"word":"POLITICS","part":"c"}]},
"encoding": {"y": {"field":"part","type":"nominal","scale":{"type":"band","domain":["a","b","c"],"paddingInner":0,"paddingOuter":0.265,"align":0.83},"axis":null}},
"layer": [
{"mark": {"type":"rect"}, "encoding": {"fill": {"field":"part","type":"nominal","scale":{"domain":["a","b","c"],"range":["#c4161c","#c4161c","#111111"]},"legend":null}}},
{"transform":[{"filter":"datum.part != 'c'"}],"mark":{"type":"text","align":"left","baseline":"middle","font":"Liberation Serif","fontSize":10.5,"color":"#f8dede"},"encoding":{"x":{"datum":"logo","type":"nominal","scale":{"type":"point","padding":0,"align":0},"axis":null},"text":{"field":"word"}}},
{"transform":[{"filter":"datum.part == 'c'"}],"mark":{"type":"text","align":"left","baseline":"middle","font":"Liberation Serif","fontSize":8.6,"color":"#ffffff"},"encoding":{"x":{"datum":"logo","type":"nominal","scale":{"type":"point","padding":0,"align":0},"axis":null},"text":{"field":"word"}}}
]
},
{
"width": 242, "height": 42,
"data": {"values": [{"line":"RCP POLL AVERAGE","row":"a"},{"line":"2012 Republican Presidential","row":"b"},{"line":"Nomination","row":"c"}]},
"encoding": {
"y": {"field":"row","type":"nominal","scale":{"type":"band","domain":["a","b","c"],"paddingInner":0,"paddingOuter":0},"axis":null},
"x": {"datum":"title","type":"nominal","scale":{"type":"point","padding":0,"align":0},"axis":null},
"text": {"field":"line"}
},
"layer": [
{"transform":[{"filter":"datum.row == 'a'"}],"mark":{"type":"text","align":"left","baseline":"middle","font":"Liberation Serif","fontSize":7.5,"color":"#8a8a8a"}},
{"transform":[{"filter":"datum.row != 'a'"}],"mark":{"type":"text","align":"left","baseline":"middle","font":"Liberation Serif","fontSize":14,"color":"#666666"}}
]
},
{
"hconcat": [
{"width":25,"height":40,"data":{"name":"legend"},"transform":[{"filter":{"field":"who","oneOf":["Santorum","Perry"]}}],
"encoding":{"y":{"field":"who","type":"nominal","scale":{"type":"band","domain":["Santorum","Perry"],"paddingInner":0.2,"paddingOuter":0.433,"align":0.615},"axis":null}},
"layer":[{"mark":{"type":"rect"},"encoding":{"color":{"field":"who","type":"nominal","scale":{"domain":["Santorum","Romney","Gingrich","Paul","Perry","Huntsman","Bachmann","Cain"],"range":["#8b6a1e","#8b1a8b","#1f9a1f","#f0a030","#000080","#ee82ee","#000000","#cc0000"]},"legend":null}}},
{"mark":{"type":"text","font":"DejaVu Sans","fontSize":9,"color":"#ffffff","opacity":0.8,"baseline":"middle"},"encoding":{"text":{"field":"latest"}}}]},
{"width":68,"height":40,"data":{"name":"legend"},"transform":[{"filter":{"field":"who","oneOf":["Santorum","Perry"]}}],
"mark":{"type":"text","align":"left","baseline":"middle","font":"DejaVu Sans","fontSize":9,"color":"#444444"},
"encoding":{"y":{"field":"who","type":"nominal","scale":{"type":"band","domain":["Santorum","Perry"],"paddingInner":0.2,"paddingOuter":0.433,"align":0.615},"axis":null},"x":{"datum":"leg","type":"nominal","scale":{"type":"point","padding":0,"align":0},"axis":null},"text":{"field":"label"}}},
{"width":25,"height":40,"data":{"name":"legend"},"transform":[{"filter":{"field":"who","oneOf":["Romney","Huntsman"]}}],
"encoding":{"y":{"field":"who","type":"nominal","scale":{"type":"band","domain":["Romney","Huntsman"],"paddingInner":0.2,"paddingOuter":0.433,"align":0.615},"axis":null}},
"layer":[{"mark":{"type":"rect"},"encoding":{"color":{"field":"who","type":"nominal","scale":{"domain":["Santorum","Romney","Gingrich","Paul","Perry","Huntsman","Bachmann","Cain"],"range":["#8b6a1e","#8b1a8b","#1f9a1f","#f0a030","#000080","#ee82ee","#000000","#cc0000"]},"legend":null}}},
{"mark":{"type":"text","font":"DejaVu Sans","fontSize":9,"color":"#ffffff","opacity":0.8,"baseline":"middle"},"encoding":{"text":{"field":"latest"}}}]},
{"width":48,"height":40,"data":{"name":"legend"},"transform":[{"filter":{"field":"who","oneOf":["Romney","Huntsman"]}}],
"mark":{"type":"text","align":"left","baseline":"middle","font":"DejaVu Sans","fontSize":9,"color":"#444444"},
"encoding":{"y":{"field":"who","type":"nominal","scale":{"type":"band","domain":["Romney","Huntsman"],"paddingInner":0.2,"paddingOuter":0.433,"align":0.615},"axis":null},"x":{"datum":"leg","type":"nominal","scale":{"type":"point","padding":0,"align":0},"axis":null},"text":{"field":"label"}}},
{"width":25,"height":40,"data":{"name":"legend"},"transform":[{"filter":{"field":"who","oneOf":["Gingrich","Bachmann"]}}],
"encoding":{"y":{"field":"who","type":"nominal","scale":{"type":"band","domain":["Gingrich","Bachmann"],"paddingInner":0.2,"paddingOuter":0.433,"align":0.615},"axis":null}},
"layer":[{"mark":{"type":"rect"},"encoding":{"color":{"field":"who","type":"nominal","scale":{"domain":["Santorum","Romney","Gingrich","Paul","Perry","Huntsman","Bachmann","Cain"],"range":["#8b6a1e","#8b1a8b","#1f9a1f","#f0a030","#000080","#ee82ee","#000000","#cc0000"]},"legend":null}}},
{"mark":{"type":"text","font":"DejaVu Sans","fontSize":9,"color":"#ffffff","opacity":0.8,"baseline":"middle"},"encoding":{"text":{"field":"latest"}}}]},
{"width":51,"height":40,"data":{"name":"legend"},"transform":[{"filter":{"field":"who","oneOf":["Gingrich","Bachmann"]}}],
"mark":{"type":"text","align":"left","baseline":"middle","font":"DejaVu Sans","fontSize":9,"color":"#444444"},
"encoding":{"y":{"field":"who","type":"nominal","scale":{"type":"band","domain":["Gingrich","Bachmann"],"paddingInner":0.2,"paddingOuter":0.433,"align":0.615},"axis":null},"x":{"datum":"leg","type":"nominal","scale":{"type":"point","padding":0,"align":0},"axis":null},"text":{"field":"label"}}},
{"width":25,"height":40,"data":{"name":"legend"},"transform":[{"filter":{"field":"who","oneOf":["Paul","Cain"]}}],
"encoding":{"y":{"field":"who","type":"nominal","scale":{"type":"band","domain":["Paul","Cain"],"paddingInner":0.2,"paddingOuter":0.433,"align":0.615},"axis":null}},
"layer":[{"mark":{"type":"rect"},"encoding":{"color":{"field":"who","type":"nominal","scale":{"domain":["Santorum","Romney","Gingrich","Paul","Perry","Huntsman","Bachmann","Cain"],"range":["#8b6a1e","#8b1a8b","#1f9a1f","#f0a030","#000080","#ee82ee","#000000","#cc0000"]},"legend":null}}},
{"mark":{"type":"text","font":"DejaVu Sans","fontSize":9,"color":"#ffffff","opacity":0.8,"baseline":"middle"},"encoding":{"text":{"field":"latest"}}}]},
{"width":26,"height":40,"data":{"name":"legend"},"transform":[{"filter":{"field":"who","oneOf":["Paul","Cain"]}}],
"mark":{"type":"text","align":"left","baseline":"middle","font":"DejaVu Sans","fontSize":9,"color":"#444444"},
"encoding":{"y":{"field":"who","type":"nominal","scale":{"type":"band","domain":["Paul","Cain"],"paddingInner":0.2,"paddingOuter":0.433,"align":0.615},"axis":null},"x":{"datum":"leg","type":"nominal","scale":{"type":"point","padding":0,"align":0},"axis":null},"text":{"field":"label"}}}
],
"spacing": 4,
"bounds": "flush"
}
],
"spacing": 7,
"bounds": "flush"
},
{
"hconcat": [
{
"width": 1, "height": 1,
"data": {"values": [{"gap": 0}]},
"mark": {"type": "rect", "opacity": 0}
},
{
"width": 567, "height": 215,
"view": {"fill": "#f7f7f7", "stroke": null},
"data": {"name": "polls"},
"mark": {"type": "line", "strokeWidth": 2, "clip": true},
"encoding": {
"x": {"field":"date","type":"temporal",
"scale":{"type":"utc","domain":[{"year":2011,"month":2,"date":15,"utc":true},{"year":2012,"month":2,"date":26,"utc":true}]},
"axis":{"values":[{"year":2011,"month":2,"date":15,"utc":true},{"year":2011,"month":5,"date":20,"utc":true},{"year":2011,"month":8,"date":22,"utc":true},{"year":2011,"month":11,"date":24,"utc":true},{"year":2012,"month":2,"date":26,"utc":true}],
"format":"%-m/%-d/%Y","labelFont":"Liberation Mono","labelFontSize":9,"labelColor":"#888888","labelPadding":5,"labelOverlap":false,"labelFlush":false,"ticks":false,"domain":false,"grid":false,
"title":"Retrieved by Thunder Pig on 02/20/2012","titleX":587,"titleY":56,"titleAlign":"right","titleBaseline":"middle","titleFont":"DejaVu Sans","titleFontSize":10.5,"titleFontWeight":"bold","titleColor":"#cc2222"}},
"y": {"field":"pct","type":"quantitative","scale":{"domain":[0,40],"nice":false},
"axis":{"values":[5,10,15,20,25,30,35,40],"labelFont":"Liberation Mono","labelFontSize":9,"labelColor":"#888888","labelPadding":10,"ticks":false,"domain":false,"grid":true,"gridColor":"#e8e8e8",
"title":"REAL CLEAR POLITICS","titleAngle":0,"titleX":-32,"titleY":271,"titleAlign":"left","titleBaseline":"middle","titleFont":"Liberation Serif","titleFontSize":8,"titleFontWeight":"normal","titleColor":"#a33a3a"}},
"color": {"field":"who","type":"nominal","scale":{"domain":["Santorum","Romney","Gingrich","Paul","Perry","Huntsman","Bachmann","Cain"],"range":["#8b6a1e","#8b1a8b","#1f9a1f","#f0a030","#000080","#ee82ee","#000000","#cc0000"]},"legend":null}
}
}
],
"spacing": 0
}
]
}
